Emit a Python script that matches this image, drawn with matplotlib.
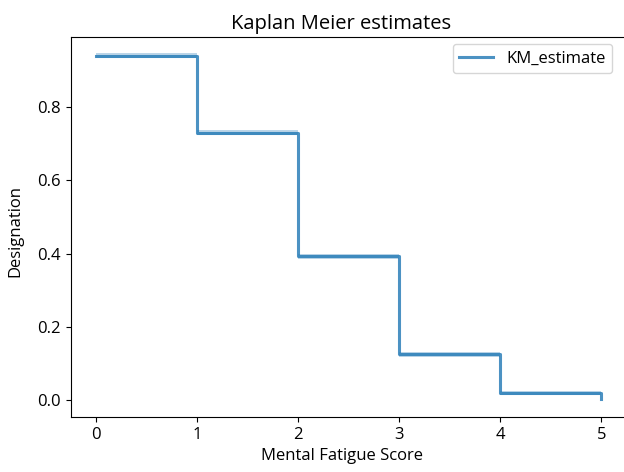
import matplotlib
matplotlib.use('Agg')
import matplotlib.pyplot as plt

plt.rcParams['font.family'] = ['Open Sans', 'DejaVu Sans']
plt.rcParams['font.size'] = 12

# timeline and KM survival estimate
timeline = [0, 1, 2, 3, 4, 5]
km_estimate = [0.94, 0.73, 0.392, 0.125, 0.02, 0.003]
ci_lower = [0.933, 0.723, 0.385, 0.118, 0.014, 0.0]
ci_upper = [0.947, 0.737, 0.399, 0.132, 0.026, 0.008]

fig = plt.figure(figsize=(6.24, 4.72), dpi=100)
left, right = 70.5, 626.5
ax = fig.add_axes([left / 624, 55 / 472, (right - left) / 624, 380 / 472])

ax.plot(timeline, km_estimate, drawstyle='steps-post', color='#1f77b4',
        alpha=0.8, lw=2.2, label='KM_estimate')
ax.fill_between(timeline, ci_lower, ci_upper, step='post',
                color='#1f77b4', alpha=0.3, lw=0)

ax.set_xlim(-0.25, 5.25)
ax.set_ylim(-0.046, 0.991)
ax.set_xticks([0, 1, 2, 3, 4, 5])
ax.set_yticks([0.0, 0.2, 0.4, 0.6, 0.8])

ax.set_title("Kaplan Meier estimates", fontsize=14.5)
ax.title.set_x((341 - left) / (right - left))
ax.set_xlabel("Mental Fatigue Score")
ax.xaxis.label.set_x((342 - left) / (right - left))
ax.set_ylabel("Designation")
ax.yaxis.set_label_coords((23 - left) / (right - left), 0.49)

ax.legend(loc='upper right', bbox_to_anchor=(612 / 624, 1 - 44 / 472),
          bbox_transform=fig.transFigure, borderaxespad=0, fontsize=12)

fig.savefig("out.png", dpi=100)
plt.close(fig)
